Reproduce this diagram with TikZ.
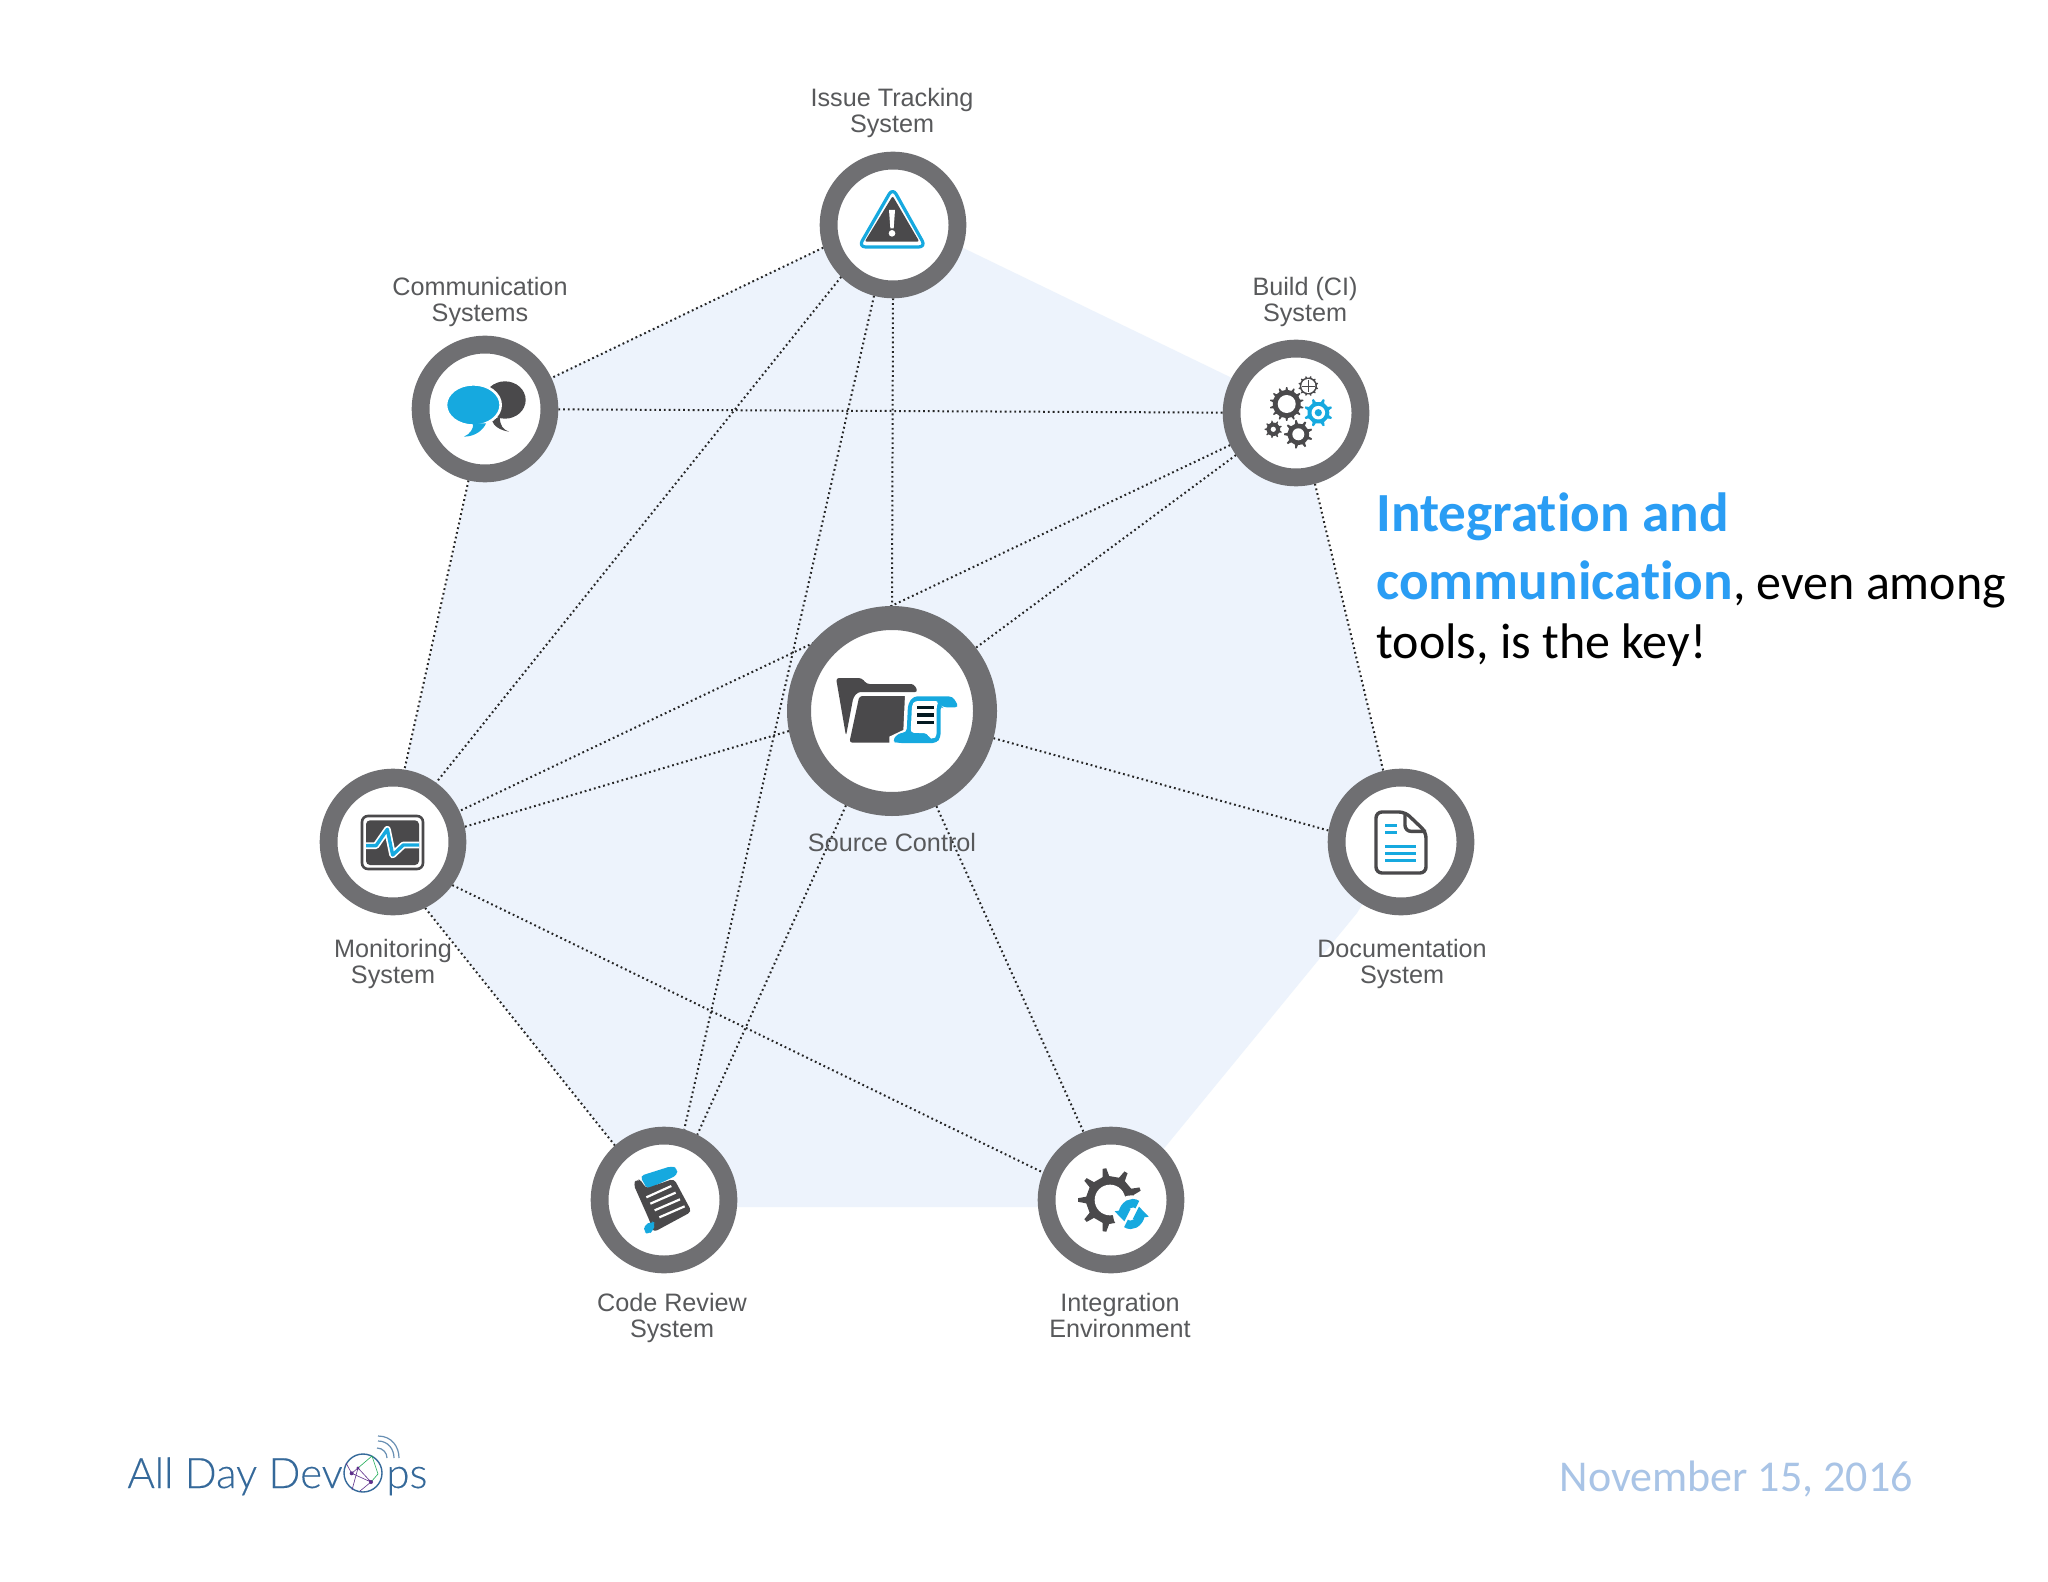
\documentclass[tikz,border=0pt]{standalone}
\usepackage{fontspec}
\setmainfont{Liberation Sans}
\newfontfamily\slidefont[Ligatures=NoCommon]{Carlito}
\newfontfamily\logofont[FakeBold=0.25]{Lato Light}
\pgfdeclarelayer{fillback}
\pgfdeclarelayer{linkback}
\pgfsetlayers{fillback,linkback,main}
\definecolor{ringgray}{HTML}{6F6F72}
\definecolor{icondark}{HTML}{4A494B}
\definecolor{iconblue}{HTML}{16A9DF}
\definecolor{panelblue}{HTML}{EDF3FC}
\definecolor{labelgray}{HTML}{58595B}
\definecolor{titleblue}{HTML}{2A9DF4}
\definecolor{dateblue}{HTML}{A9C4E6}
\definecolor{logoblue}{HTML}{35699A}
\tikzset{
  ring/.style={circle,draw=ringgray,fill=white,line width=8.9pt,minimum size=64.4pt,inner sep=0pt},
  bigring/.style={circle,draw=ringgray,fill=white,line width=12pt,minimum size=93pt,inner sep=0pt},
  link/.style={line width=1pt,dash pattern=on 0.9pt off 1.5pt,color=black!85},
  caption/.style={text=labelgray,align=center,inner sep=0pt,font=\fontsize{12.6}{13}\selectfont},
  bodytext/.style={anchor=base west,inner sep=0pt,font=\slidefont\fontsize{25}{28}\selectfont}
}
% position x, y, outer radius, root radius, hole radius, teeth, colour
\newcommand{\cogicon}[7]{%
  \begin{scope}[shift={(#1,#2)}]
    \fill[#7] (0:#4) \foreach \i in {1,...,#6} {
      -- ({(\i-0.70)*360/#6}:#4) -- ({(\i-0.58)*360/#6}:#3) -- ({(\i-0.42)*360/#6}:#3) -- ({(\i-0.30)*360/#6}:#4)
    } -- cycle;
    \fill[white] (0,0) ellipse [x radius=#5,y radius=#5];
  \end{scope}}
\begin{document}
\begin{tikzpicture}[x=0.5pt,y=-0.5pt]
\useasboundingbox (0,0) rectangle (2048,1582);

% rings
\node[ring] (issue) at (893,225) {};
\node[ring] (comm) at (485,409) {};
\node[ring] (build) at (1296,413) {};
\node[bigring] (source) at (892,711) {};
\node[ring] (mon) at (393,842) {};
\node[ring] (docs) at (1401,842) {};
\node[ring] (code) at (664,1200) {};
\node[ring] (integ) at (1111,1200) {};

\begin{pgfonlayer}{fillback}
  \fill[white] (0,0) rectangle (2048,1582);
  \fill[panelblue] (485,409) -- (893,214) -- (1296,409) -- (1401,842) -- (1357,913) -- (1116,1207) -- (664,1207) -- (426,909) -- (405,768) -- cycle;
\end{pgfonlayer}

% connectors
\begin{pgfonlayer}{linkback}
  \draw[link] (issue.198) -- (comm.25);
  \draw[link] (issue.225) -- (mon.54);
  \draw[link] (issue.255) -- (code.74);
  \draw[link] (issue.270) -- (source.90);
  \draw[link] (comm) -- (build);
  \draw[link] (comm.257) -- (mon.81);
  \draw[link] (build.206) -- (mon.25);
  \draw[link] (build.215) -- (source.37);
  \draw[link] (build.-75) -- (docs.104);
  \draw[link] (source.191) -- (mon.12);
  \draw[link] (source.-15) -- (docs.171);
  \draw[link] (source.244) -- (code.63);
  \draw[link] (source.-65) -- (integ.112);
  \draw[link] (mon.-64) -- (code.132);
  \draw[link] (mon.-36) -- (integ.158);
\end{pgfonlayer}

% captions
\node[caption] (tissue) at (892,113) {Issue Tracking\\System};
\node[caption] (tcomm) at (480,302) {Communication\\Systems};
\node[caption] (tbuild) at (1305,302) {Build (CI)\\System};
\node[caption] (tsource) at (892,842) {Source Control};
\node[caption] (tmon) at (393,964) {Monitoring\\System};
\node[caption] (tdocs) at (1402,964) {Documentation\\System};
\node[caption] (tcode) at (672,1318) {Code Review\\System};
\node[caption] (tinteg) at (1120,1315) {Integration\\Environment};

% issue icon
\begin{scope}[shift={(780,60)},scale=1/3]
  \draw[iconblue,line width=1.6pt,line join=round,rounded corners=3.5pt] (338,384) -- (236,561) -- (437,561) -- cycle;
  \fill[icondark,rounded corners=1pt] (338,408) -- (254,545) -- (418,545) -- cycle;
  \fill[white] (327,450) -- (345,450) -- (341,505) -- (331,505) -- cycle;
  \fill[white] (336,520) ellipse [x radius=10,y radius=10];
\end{scope}

% speech bubbles
\begin{scope}[shift={(380,260)},scale=1/3]
  \fill[icondark] (375,420) ellipse [x radius=62,y radius=56];
  \fill[icondark] (335,480) .. controls (340,500) and (365,512) .. (387,515) .. controls (370,510) and (358,495) .. (360,470) -- cycle;
  \fill[iconblue,draw=white,line width=1.3pt] (280,435) ellipse [x radius=82,y radius=62];
  \fill[iconblue] (280,490) -- (318,490) .. controls (310,510) and (285,530) .. (252,530) .. controls (270,522) and (280,508) .. (280,490) -- cycle;
\end{scope}

% gears
\cogicon{1286.7}{404}{17}{14}{9}{14}{icondark}
\cogicon{1308.3}{386}{10}{8.6}{7}{12}{icondark}
\fill[white] (1308.3,386) ellipse [x radius=6.2,y radius=6.2];
\draw[icondark,line width=0.35pt] (1302,386) -- (1314.6,386) (1308.3,379.8) -- (1308.3,392.2);
\cogicon{1318.3}{412.7}{14.3}{11}{6.8}{8}{iconblue}
\fill[iconblue] (1318.3,412.7) ellipse [x radius=3.6,y radius=3.6];
\cogicon{1273.3}{429.3}{8.8}{6.8}{2.6}{9}{icondark}
\cogicon{1298.3}{434.3}{14.3}{10.8}{6}{9}{icondark}

% folder and scroll
\begin{scope}[shift={(770,590)},scale=1/3]
  \fill[icondark,rounded corners=1.5pt] (198,264) -- (275,264) -- (290,282) -- (432,282) -- (444,306) -- (264,306) -- (250,322) -- (228,438) -- cycle;
  \fill[icondark,rounded corners=1.5pt] (268,318) -- (420,318) -- (415,420) -- (368,438) -- (368,458) -- (238,458) -- cycle;
  \fill[white] (405,314) -- (565,314) -- (570,356) -- (520,356) -- (520,465) -- (358,465) -- (358,440) -- (400,420) -- cycle;
  \fill[iconblue,rounded corners=2pt] (414,342) -- (430,319) -- (548,319) -- (567,352) -- (518,352) -- (512,346) -- (512,442) -- (500,459) -- (382,459) -- (366,454) -- (385,429) -- (410,428) -- cycle;
  \fill[white,rounded corners=1.5pt] (426,345) -- (434,333) -- (506,333) -- (500,347) -- (500,438) -- (490,447) -- (478,444) -- (472,430) -- (422,428) -- cycle;
  \draw[black!75!iconblue!60!black,line width=1.6pt] (442,352) -- (493,352) (442,375) -- (493,375) (442,398) -- (493,398);
\end{scope}

% monitor
\begin{scope}[shift={(300,750)},scale=1/3]
  \draw[icondark,line width=1.3pt,rounded corners=3pt] (186,198) rectangle (369,357);
  \fill[icondark,rounded corners=2pt] (198,211) rectangle (357,345);
  \draw[white,line width=3.4pt,line join=round] (198,287) -- (228,287) -- (262,238) -- (278,315) -- (310,285) -- (357,285);
  \draw[iconblue,line width=1.7pt,line join=round] (198,287) -- (228,287) -- (262,238) -- (278,315) -- (310,285) -- (357,285);
\end{scope}

% document
\begin{scope}[shift={(1300,750)},scale=1/3]
  \draw[icondark,line width=1.7pt,rounded corners=3pt] (315,186) -- (228,186) -- (228,369) -- (378,369) -- (378,246) -- cycle;
  \draw[icondark,line width=1.7pt,rounded corners=3pt] (315,186) -- (315,244) -- (378,244);
  \draw[iconblue,line width=1.4pt] (255,227) -- (290,227) (255,248) -- (290,248) (255,290) -- (347,290) (255,310) -- (347,310) (255,332) -- (347,332);
\end{scope}

% paper roll
\begin{scope}[shift={(570,1110)},scale=1/3]
  \fill[iconblue,rounded corners=2pt] (210,198) -- (305,168) -- (322,175) -- (322,195) -- (232,238) -- cycle;
  \fill[icondark,rounded corners=2pt] (190,222) -- (200,207) -- (216,212) -- (226,236) -- (312,206) -- (365,305) -- (250,367) -- (240,335) -- cycle;
  \draw[white,line width=1.1pt] (229,262) -- (304,228) (241,281) -- (317,248) (254,301) -- (330,268) (268,322) -- (344,289);
  \fill[iconblue,rounded corners=2pt] (222,346) -- (246,334) -- (256,340) -- (250,362) -- (235,373) -- (222,366) -- cycle;
\end{scope}

% gear and refresh arrows
\begin{scope}[shift={(1020,1110)},scale=1/3]
  \cogicon{270}{270}{96}{72}{46}{9}{icondark}
  \fill[white] (335,312) ellipse [x radius=56,y radius=56];
  \draw[iconblue,line width=4.2pt] (352,284) .. controls (335,272) and (312,285) .. (308,310);
  \fill[iconblue] (284,304) -- (332,296) -- (313,334) -- cycle;
  \draw[iconblue,line width=4.2pt] (318,340) .. controls (335,352) and (358,339) .. (362,314);
  \fill[iconblue] (386,320) -- (338,328) -- (357,290) -- cycle;
\end{scope}

% slide text
\node[bodytext,text=titleblue,font=\slidefont\bfseries\fontsize{27.6}{28}\selectfont] (hl1) at (1376,532) {Integration and};
\node[bodytext] (hl2) at (1376,599) {{\bfseries\fontsize{27.6}{28}\selectfont\color{titleblue}communication}, even among};
\node[bodytext] (hl3) at (1376,658) {tools, is the key!};

% date
\node[anchor=base east,inner sep=0pt,text=dateblue,font=\slidefont\fontsize{22}{24}\selectfont] (date) at (1913,1491) {November 15, 2016};

% logo
\node[anchor=base west,inner sep=0pt,text=logoblue,font=\logofont\fontsize{21}{26}\selectfont] (logoa) at (127,1488) {All Day Dev};
\node[anchor=base west,inner sep=0pt,text=logoblue,font=\logofont\fontsize{21}{26}\selectfont] (logob) at (386,1488) {ps};
\draw[logoblue,line width=0.7pt] (363,1473) ellipse [x radius=19,y radius=19];
\draw[violet!55!logoblue,line width=0.3pt] (351.7,1473.3) -- (358,1468) -- (371,1482) -- (360,1491) (351.7,1473.3) -- (371,1482) (351.7,1473.3) -- (346,1463) (358,1468) -- (352,1490);
\draw[green!45!logoblue,line width=0.3pt] (358,1468) -- (372,1456) -- (378,1474) -- (371,1482);
\fill[violet!55!logoblue] (351.7,1473.3) ellipse [x radius=2,y radius=2] (358,1468) ellipse [x radius=1.6,y radius=1.6] (371,1482) ellipse [x radius=2,y radius=2];
\draw[logoblue!75,line width=0.6pt] (377,1448) .. controls (383,1448) and (387,1453) .. (387,1458);
\draw[logoblue!75,line width=0.6pt] (378,1441) .. controls (388,1441) and (394,1449) .. (394,1458);
\draw[logoblue!75,line width=0.6pt] (378,1436) .. controls (392,1436) and (399,1447) .. (399,1458);
\end{tikzpicture}
\end{document}
